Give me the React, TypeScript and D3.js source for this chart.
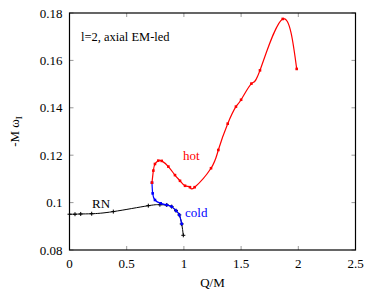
import * as d3 from "d3";

// RN branch (black)
const rnQ = [0, 0.048, 0.098, 0.194, 0.383, 0.689, 0.79, 0.85, 0.893, 0.931, 0.96, 0.981, 0.995];
const rnW = [0.0951, 0.0951, 0.0952, 0.0953, 0.0962, 0.0987, 0.0991, 0.099, 0.0983, 0.0966, 0.0948, 0.091, 0.0862];

// cold branch (blue)
const coldQ = [0.721, 0.727, 0.747, 0.797, 0.85, 0.893, 0.931, 0.96, 0.981];
const coldW = [0.1084, 0.1039, 0.1011, 0.0997, 0.099, 0.0983, 0.0966, 0.0948, 0.091];

// hot branch (red)
const hotQ = [0.721, 0.733, 0.747, 0.776, 0.806, 0.864, 0.922, 0.966, 1.01, 1.053, 1.094, 1.237, 1.301, 1.383, 1.455, 1.5, 1.59, 1.665, 1.864, 1.986];
const hotW = [0.1084, 0.1135, 0.1163, 0.1177, 0.1176, 0.1152, 0.1116, 0.1092, 0.1071, 0.1065, 0.1065, 0.1145, 0.1222, 0.1333, 0.1405, 0.1434, 0.1502, 0.1558, 0.1775, 0.1564];

const xTicks = [0, 0.5, 1, 1.5, 2, 2.5];
const xTickLabels = ["0", "0.5", "1", "1.5", "2", "2.5"];
const yTicks = [0.08, 0.1, 0.12, 0.14, 0.16, 0.18];
const yTickLabels = ["0.08", "0.1", "0.12", "0.14", "0.16", "0.18"];

const W = 378;
const H = 291;
const margin = { top: 13, right: 22.5, bottom: 41, left: 69.5 };
const font = "'Liberation Serif', 'Times New Roman', serif";

type Pt = [number, number];
const zip = (a: number[], b: number[]): Pt[] => a.map((v, i) => [v, b[i]]);

export default function App() {
  const x = d3.scaleLinear().domain([0, 2.5]).range([margin.left, W - margin.right]);
  const y = d3.scaleLinear().domain([0.08, 0.18]).range([H - margin.bottom, margin.top]);
  const line = d3
    .line<Pt>()
    .x((d) => x(d[0]))
    .y((d) => y(d[1]))
    .curve(d3.curveNatural);

  const rn = zip(rnQ, rnW);
  const cold = zip(coldQ, coldW);
  const hot = zip(hotQ, hotW);

  const x0 = margin.left;
  const x1 = W - margin.right;
  const y0 = margin.top;
  const y1 = H - margin.bottom;
  const tl = 4;

  return (
    <svg width={W} height={H} style={{ position: "absolute", left: 0, top: 0, background: "#fff" }}>
      {/* ticks, inward on all sides */}
      {xTicks.map((t) => (
        <g key={"xt" + t} stroke="#999" strokeWidth={1}>
          <line x1={x(t)} x2={x(t)} y1={y1} y2={y1 - tl} />
          <line x1={x(t)} x2={x(t)} y1={y0} y2={y0 + tl} />
        </g>
      ))}
      {yTicks.map((t) => (
        <g key={"yt" + t} stroke="#999" strokeWidth={1}>
          <line x1={x0} x2={x0 + tl} y1={y(t)} y2={y(t)} />
          <line x1={x1} x2={x1 - tl} y1={y(t)} y2={y(t)} />
        </g>
      ))}
      <rect x={x0} y={y0} width={x1 - x0} height={y1 - y0} fill="none" stroke="#000" strokeWidth={1.2} />

      {xTicks.map((t, i) => (
        <text key={"xl" + t} x={x(t)} y={y1 + 18} textAnchor="middle" fontFamily={font} fontSize={13}>
          {xTickLabels[i]}
        </text>
      ))}
      {yTicks.map((t, i) => (
        <text key={"yl" + t} x={x0 - 7} y={y(t) + 4.5} textAnchor="end" fontFamily={font} fontSize={13}>
          {yTickLabels[i]}
        </text>
      ))}

      <text x={(x0 + x1) / 2} y={H - 4} textAnchor="middle" fontFamily={font} fontSize={13}>
        Q/M
      </text>
      <text
        transform={`translate(19,${(y0 + y1) / 2}) rotate(-90)`}
        textAnchor="middle"
        fontFamily={font}
        fontSize={13}
      >
        -M ω<tspan fontSize={9} dy={3}>I</tspan>
      </text>

      <text x={81} y={41} fontFamily={font} fontSize={12.5}>
        l=2, axial EM-led
      </text>

      {/* curves */}
      <path d={line(rn) ?? ""} fill="none" stroke="#000" strokeWidth={1} />
      {rn.map((d, i) => (
        <g key={"rm" + i} stroke="#000" strokeWidth={1}>
          <line x1={x(d[0]) - 2} x2={x(d[0]) + 2} y1={y(d[1])} y2={y(d[1])} />
          <line x1={x(d[0])} x2={x(d[0])} y1={y(d[1]) - 2} y2={y(d[1]) + 2} />
        </g>
      ))}
      <path d={line(cold) ?? ""} fill="none" stroke="#0000ff" strokeWidth={1.2} />
      {cold.map((d, i) => (
        <rect key={"cm" + i} x={x(d[0]) - 1.3} y={y(d[1]) - 1.3} width={2.6} height={2.6} fill="#0000ff" />
      ))}
      <path d={line(hot) ?? ""} fill="none" stroke="#ff0000" strokeWidth={1.2} />
      {hot.map((d, i) => (
        <rect key={"hm" + i} x={x(d[0]) - 1.3} y={y(d[1]) - 1.3} width={2.6} height={2.6} fill="#ff0000" />
      ))}

      <text x={92} y={208} fontFamily={font} fontSize={13}>
        RN
      </text>
      <text x={183} y={160} fontFamily={font} fontSize={13} fill="#ff0000">
        hot
      </text>
      <text x={185} y={217} fontFamily={font} fontSize={13} fill="#0000ff">
        cold
      </text>
    </svg>
  );
}
